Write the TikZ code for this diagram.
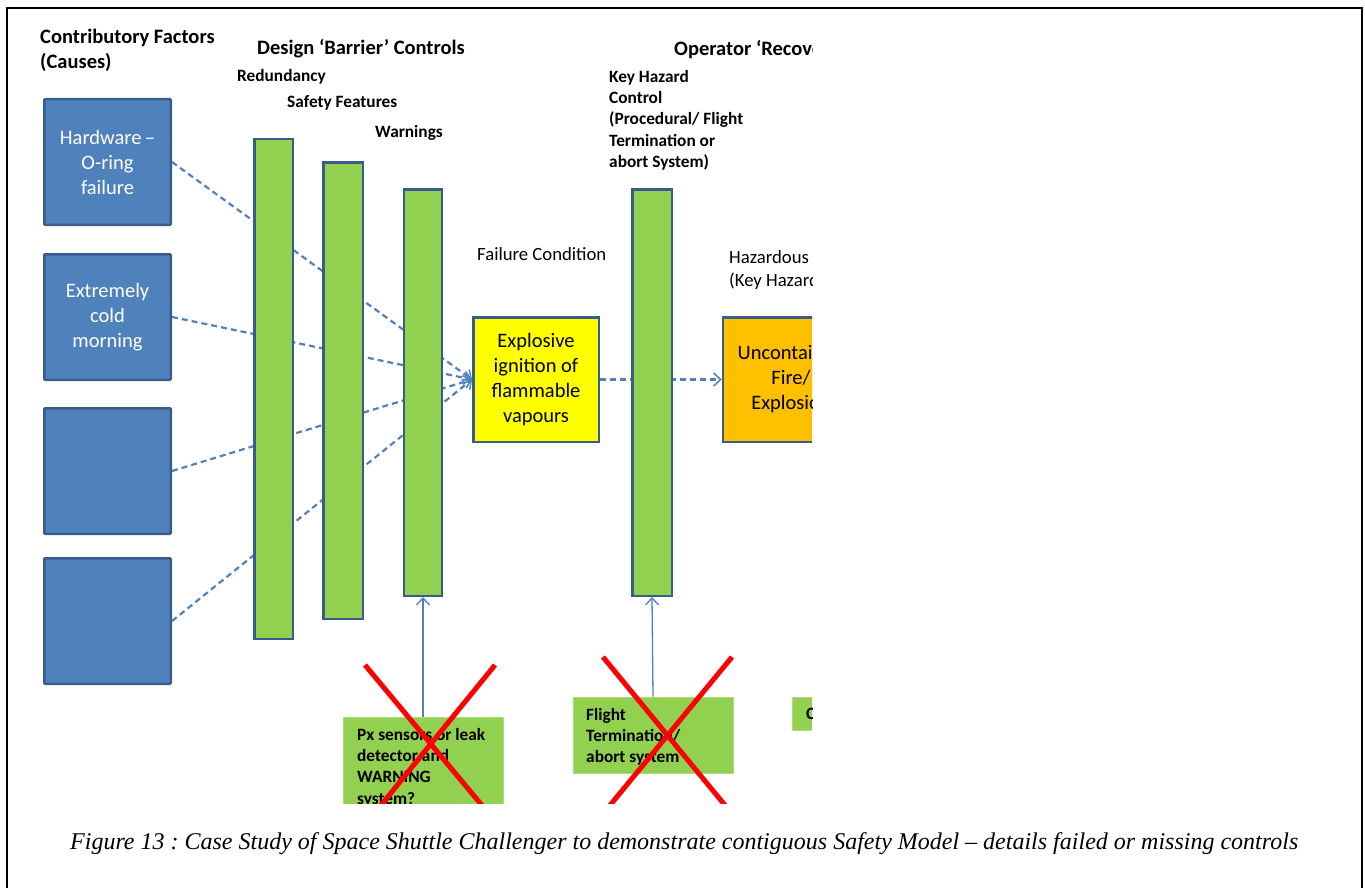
\documentclass[tikz,border=0pt]{standalone}
\usepackage{fontspec}
\setmainfont{Carlito}
\newfontfamily\capfont{Liberation Serif}
\usetikzlibrary{arrows.meta}
\definecolor{bfill}{HTML}{4F81BD}
\definecolor{bline}{HTML}{385D8A}
\definecolor{gfill}{HTML}{92D050}
\definecolor{yfill}{HTML}{FFFF00}
\definecolor{ofill}{HTML}{FFC000}
\definecolor{xred}{HTML}{FF0000}
\frenchspacing
\begin{document}
\begin{tikzpicture}[x=1pt,y=-1pt,
 cause/.style={draw=bline, line width=2.5pt, fill=bfill, rounded corners=1pt, minimum width=126.5pt, minimum height=125.5pt, inner sep=0pt, text=white, align=center, font=\fontsize{20.5}{25}\selectfont},
 bar/.style={draw=bline, line width=2.5pt, fill=gfill, inner sep=0pt},
 event/.style={draw=bline, line width=2.5pt, minimum width=125.5pt, minimum height=124.5pt, inner sep=0pt, align=center, font=\fontsize{20.5}{25}\selectfont},
 ctrlbox/.style={fill=gfill, draw=gfill!75!white, line width=0.8pt, inner sep=0pt},
 head/.style={font=\bfseries\fontsize{20.5}{25}\selectfont, inner sep=0pt, align=left},
 sub/.style={font=\bfseries\fontsize{17.3}{21.2}\selectfont, inner sep=0pt, align=left},
 plain/.style={font=\fontsize{18.7}{23}\selectfont, inner sep=0pt, align=left},
 flow/.style={draw=bfill, line width=2.2pt, dash pattern=on 6pt off 4pt, -{Straight Barb[length=7pt,width=13pt,line width=1.5pt]}},
 feed/.style={draw=bfill, line width=1.3pt, -{Straight Barb[length=7pt,width=13pt,line width=1.3pt]}},
 cross/.style={draw=xred, line width=5pt},
]
\useasboundingbox (0,0) rectangle (1365,888);
\draw[line width=2pt] (7,888) -- (7,8) -- (1362,8) -- (1362,888);

\begin{scope}
\clip (0,0) rectangle (812,803);
% headings (multi-line nodes: base = last line)
\node[head, anchor=base west] (tcf) at (40,68.5) {Contributory Factors\\(Causes)};
\node[head, anchor=base west] (tdb) at (257,54.5) {Design ‘Barrier’ Controls};
\node[sub, anchor=base west] (tred) at (237,81.5) {Redundancy};
\node[sub, anchor=base west] (tsf) at (287,107.5) {Safety Features};
\node[sub, anchor=base west] (twa) at (375,137.5) {Warnings};
\node[head, anchor=base west] (top) at (674,55.5) {Operator ‘Recovery’ Controls};
\node[sub, anchor=base west] (tkh) at (609,167.3) {Key Hazard\\Control\\(Procedural/ Flight\\Termination or\\abort System)};
\node[plain, anchor=base west] (tfc) at (477,260) {Failure Condition};
\node[plain, anchor=base west] (thz) at (729,286) {Hazardous Event\\(Key Hazard)};

% causes
\node[cause] (c1) at (107.5,162) {Hardware\,–\\O-ring\\failure};
\node[cause] (c2) at (107.5,317) {Extremely\\cold\\morning};
\node[cause] (c3) at (107.5,471) {};
\node[cause] (c4) at (107.5,621) {};

% events
\node[event, fill=yfill] (yel) at (536,379.5) {Explosive\\ignition of\\flammable\\vapours};
\node[event, fill=ofill, minimum width=136pt] (ora) at (791,379.5) {Uncontained\\Fire/\\Explosion};

% flows
\draw[flow] (c1.east) -- (yel.west);
\draw[flow] (c2.east) -- (yel.west);
\draw[flow] (c3.east) -- (yel.west);
\draw[flow] (c4.east) -- (yel.west);
\draw[flow] (yel.east) -- (ora.west);

% barriers
\node[bar, minimum width=38.5pt, minimum height=499.5pt] (b1) at (273.5,389) {};
\node[bar, minimum width=39.5pt, minimum height=456.5pt] (b2) at (343,390.5) {};
\node[bar, minimum width=38pt, minimum height=406.5pt] (b3) at (423,392.5) {};
\node[bar, minimum width=39.5pt, minimum height=406.5pt] (b4) at (652,392.5) {};

% control boxes
\node[ctrlbox, minimum width=160pt, minimum height=100pt] (px) at (423,767) {};
\node[sub, anchor=base west] (pxt) at (357,804.1) {Px sensors or leak\\detector and\\WARNING\\system?};
\node[ctrlbox, minimum width=160pt, minimum height=76pt] (ft) at (653,735) {};
\node[sub, anchor=base west] (ftt) at (586,762.9) {Flight\\Termination/\\abort system};
\node[ctrlbox, anchor=west, minimum width=120pt, minimum height=33pt] (cb) at (792,713.5) {};
\node[sub, anchor=base west] (cbt) at (806,719.5) {C};

\draw[feed] (px.north) -- (b3.south);
\draw[feed] (ft.north) -- (b4.south);

% crosses
\draw[cross] (365,665) -- (490,815);
\draw[cross] (495,665) -- (373,815);
\draw[cross] (603,657) -- (733,815);
\draw[cross] (732,657) -- (602,815);
\end{scope}

\node[anchor=base west, inner sep=0pt, font=\capfont\itshape\fontsize{24}{28}\selectfont] (cap) at (70,849) {Figure 13 : Case Study of Space Shuttle Challenger to demonstrate contiguous Safety Model – details failed or missing controls};
\end{tikzpicture}
\end{document}
